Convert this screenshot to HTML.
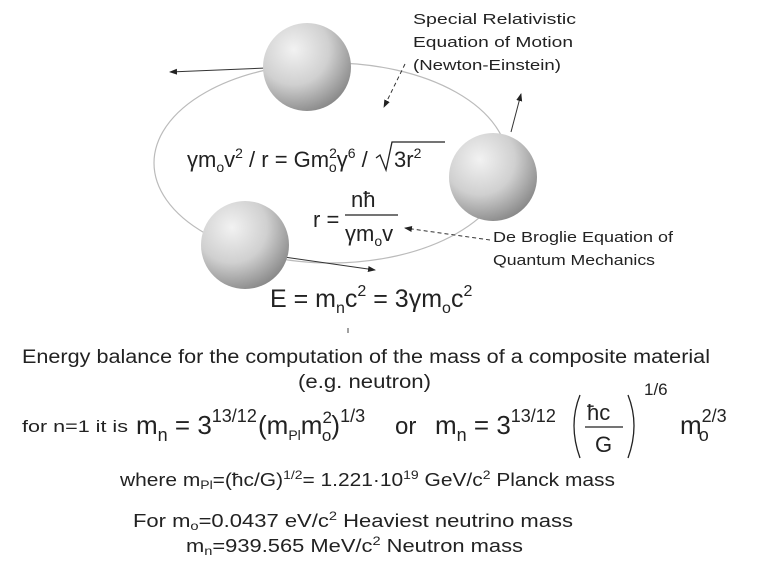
<!DOCTYPE html>
<html><head><meta charset="utf-8"><style>
html,body{margin:0;padding:0;background:#fff;}
svg{display:block;}
.t{font-family:"Liberation Sans",sans-serif;fill:#222;}
.e{font-family:"Liberation Sans","DejaVu Sans",sans-serif;fill:#222;}
</style></head><body>
<svg width="768" height="562" viewBox="0 0 768 562" xmlns="http://www.w3.org/2000/svg">
<defs>
<radialGradient id="sp" cx="0.35" cy="0.3" r="0.8">
<stop offset="0" stop-color="#f2f2f2"/><stop offset="0.5" stop-color="#d0d0d0"/><stop offset="1" stop-color="#7e7e7e"/>
</radialGradient>
<marker id="ah" markerWidth="8" markerHeight="8" refX="7" refY="4" orient="auto" markerUnits="userSpaceOnUse"><path d="M0,1 L8,4 L0,7 z" fill="#222"/></marker>
</defs>
<ellipse cx="331" cy="163" rx="177" ry="100" fill="none" stroke="#bbb" stroke-width="1.2"/>
<line x1="266" y1="68" x2="170" y2="72" stroke="#333" stroke-width="1" marker-end="url(#ah)"/>
<line x1="511" y1="132" x2="521" y2="94" stroke="#333" stroke-width="1" marker-end="url(#ah)"/>
<line x1="284" y1="257" x2="375" y2="270" stroke="#333" stroke-width="1" marker-end="url(#ah)"/>
<circle cx="307" cy="67" r="44" fill="url(#sp)"/>
<circle cx="493" cy="177" r="44" fill="url(#sp)"/>
<circle cx="245" cy="245" r="44" fill="url(#sp)"/>
<line x1="405" y1="64" x2="384" y2="107" stroke="#333" stroke-width="1" stroke-dasharray="4,3" marker-end="url(#ah)"/>
<line x1="490" y1="240" x2="405" y2="228" stroke="#333" stroke-width="1" stroke-dasharray="4,3" marker-end="url(#ah)"/>
<text class="t" x="413" y="24" font-size="15" textLength="163" lengthAdjust="spacingAndGlyphs">Special Relativistic</text>
<text class="t" x="413" y="47" font-size="15" textLength="160" lengthAdjust="spacingAndGlyphs">Equation of Motion</text>
<text class="t" x="413" y="70" font-size="15" textLength="148" lengthAdjust="spacingAndGlyphs">(Newton-Einstein)</text>
<text class="t" x="493" y="242" font-size="15" textLength="180" lengthAdjust="spacingAndGlyphs">De Broglie Equation of</text>
<text class="t" x="493" y="265" font-size="15" textLength="162" lengthAdjust="spacingAndGlyphs">Quantum Mechanics</text>
<text class="e" x="187" y="167" font-size="22">γm<tspan font-size="14" dy="5">o</tspan><tspan dy="-5">v</tspan><tspan font-size="14" dy="-9">2</tspan><tspan dy="9"> / r = Gm</tspan><tspan font-size="14" dy="-9">2</tspan><tspan font-size="14" dx="-8" dy="14">o</tspan><tspan dy="-5">γ</tspan><tspan font-size="14" dy="-9">6</tspan><tspan dy="9"> /</tspan></text>
<path d="M376,158 L380,155 L386,170 L392,142 L445,142" fill="none" stroke="#222" stroke-width="1.3"/>
<text class="e" x="394" y="167" font-size="22">3r<tspan font-size="14" dy="-9">2</tspan></text>
<text class="e" x="313" y="227" font-size="22">r =</text>
<text class="e" x="351" y="207" font-size="22">nħ</text>
<line x1="345" y1="215" x2="398" y2="215" stroke="#222" stroke-width="1.3"/>
<text class="e" x="345" y="241" font-size="22">γm<tspan font-size="14" dy="5">o</tspan><tspan dy="-5">v</tspan></text>
<text class="e" x="270" y="307" font-size="25">E = m<tspan font-size="16" dy="6">n</tspan><tspan dy="-6">c</tspan><tspan font-size="16" dy="-11">2</tspan><tspan dy="11"> = 3γm</tspan><tspan font-size="16" dy="6">o</tspan><tspan dy="-6">c</tspan><tspan font-size="16" dy="-11">2</tspan></text>
<line x1="348" y1="328" x2="348" y2="333" stroke="#444"/>
<text class="t" x="22" y="363" font-size="19" textLength="688" lengthAdjust="spacingAndGlyphs">Energy balance for the computation of the mass of a composite material</text>
<text class="t" x="298" y="388" font-size="19" textLength="133" lengthAdjust="spacingAndGlyphs">(e.g. neutron)</text>
<text class="t" x="22" y="432" font-size="17" textLength="106" lengthAdjust="spacingAndGlyphs">for n=1 it is</text>
<text class="e" x="136" y="434" font-size="26">m<tspan font-size="18" dy="7">n</tspan><tspan dy="-7"> = 3</tspan><tspan font-size="18" dy="-12">13/12</tspan></text>
<text class="e" x="258" y="434" font-size="26">(m<tspan font-size="14" dy="6">Pl</tspan><tspan dy="-6">m</tspan><tspan font-size="17" dy="-11">2</tspan><tspan font-size="17" dx="-10" dy="18">o</tspan><tspan dy="-7">)</tspan><tspan font-size="18" dy="-12">1/3</tspan></text>
<text class="e" x="395" y="434" font-size="24">or</text>
<text class="e" x="435" y="434" font-size="26">m<tspan font-size="18" dy="7">n</tspan><tspan dy="-7"> = 3</tspan><tspan font-size="18" dy="-12">13/12</tspan></text>
<path d="M580,395 Q568,425 580,458" fill="none" stroke="#222" stroke-width="1.3"/>
<path d="M628,395 Q640,425 628,458" fill="none" stroke="#222" stroke-width="1.3"/>
<text class="e" x="587" y="420" font-size="22">ħc</text>
<line x1="585" y1="427" x2="623" y2="427" stroke="#222" stroke-width="1.3"/>
<text class="e" x="595" y="452" font-size="22">G</text>
<text class="e" x="644" y="395" font-size="17">1/6</text>
<text class="e" x="680" y="434" font-size="26">m<tspan font-size="18" dy="-12">2/3</tspan><tspan font-size="18" dx="-28" dy="19">o</tspan></text>
<text class="t" x="120" y="486" font-size="18" textLength="495" lengthAdjust="spacingAndGlyphs">where  m<tspan font-size="12" dy="3">Pl</tspan><tspan dy="-3">=(ħc/G)</tspan><tspan font-size="12" dy="-7">1/2</tspan><tspan dy="7">= 1.221·10</tspan><tspan font-size="12" dy="-7">19</tspan><tspan dy="7"> GeV/c</tspan><tspan font-size="12" dy="-7">2</tspan><tspan dy="7"> Planck mass</tspan></text>
<text class="t" x="133" y="527" font-size="18" textLength="440" lengthAdjust="spacingAndGlyphs">For    m<tspan font-size="12" dy="3">o</tspan><tspan dy="-3">=0.0437 eV/c</tspan><tspan font-size="12" dy="-7">2</tspan><tspan dy="7">  Heaviest neutrino mass</tspan></text>
<text class="t" x="186" y="552" font-size="18" textLength="337" lengthAdjust="spacingAndGlyphs">m<tspan font-size="12" dy="3">n</tspan><tspan dy="-3">=939.565 MeV/c</tspan><tspan font-size="12" dy="-7">2</tspan><tspan dy="7">   Neutron mass</tspan></text>
</svg>
</body></html>
